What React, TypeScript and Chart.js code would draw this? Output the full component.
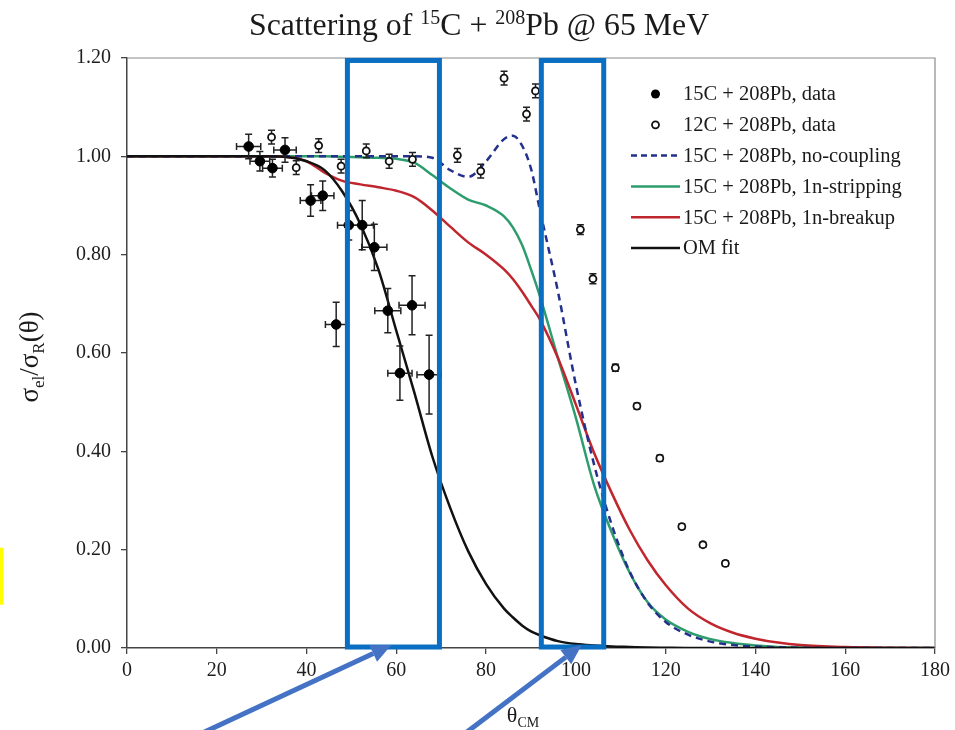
import React, { useEffect, useRef } from "react";
import { Chart, registerables } from "chart.js";
Chart.register(...registerables);

const FONT = "'Liberation Serif', 'Times New Roman', Times, serif";

// Common angle grid (degrees, CM) for the calculated curves
const THETA = [0, 10, 20, 30, 35, 40, 44, 48, 52, 56, 60, 64, 68, 72, 76, 80, 84, 86, 88, 90, 92, 96, 100, 104, 108, 112, 116, 120, 125, 130, 135, 140, 145, 150, 160, 170, 180];
const OM_FIT = [1, 1, 1, 1, 0.999, 0.99, 0.972, 0.928, 0.862, 0.77, 0.645, 0.52, 0.39, 0.285, 0.197, 0.13, 0.08, 0.062, 0.046, 0.034, 0.026, 0.014, 0.008, 0.005, 0.003, 0.002, 0.001, 0.0005, 0, 0, 0, 0, 0, 0, 0, 0, 0];
const NO_COUPLING = [1, 1, 1, 1, 1, 1, 1, 1, 1, 1, 1, 1, 0.997, 0.972, 0.958, 0.99, 1.035, 1.042, 1.022, 0.975, 0.89, 0.725, 0.535, 0.375, 0.25, 0.155, 0.092, 0.053, 0.027, 0.013, 0.006, 0.003, 0.0015, 0.0007, 0, 0, 0];
const STRIPPING = [1, 1, 1, 1, 1, 1, 1, 0.999, 0.998, 0.997, 0.995, 0.987, 0.962, 0.935, 0.912, 0.9, 0.878, 0.855, 0.82, 0.77, 0.715, 0.59, 0.468, 0.333, 0.235, 0.153, 0.093, 0.058, 0.033, 0.018, 0.01, 0.005, 0.002, 0.001, 0, 0, 0];
const BREAKUP = [1, 1, 1, 1, 0.999, 0.99, 0.967, 0.95, 0.943, 0.937, 0.93, 0.917, 0.89, 0.857, 0.825, 0.8, 0.77, 0.75, 0.725, 0.697, 0.668, 0.59, 0.495, 0.398, 0.315, 0.24, 0.178, 0.128, 0.08, 0.05, 0.031, 0.019, 0.011, 0.006, 0.002, 0.0005, 0];

// 15C + 208Pb measured data
const C15_THETA = [27.1, 29.6, 32.4, 35.2, 40.9, 43.6, 46.6, 49.4, 52.4, 55.1, 58.1, 60.8, 63.5, 67.3];
const C15_RATIO = [1.02, 0.99, 0.976, 1.013, 0.91, 0.92, 0.658, 0.86, 0.86, 0.815, 0.686, 0.559, 0.697, 0.556];
const C15_THETA_ERR = [2.7, 2.2, 2.2, 2.5, 2.3, 2.5, 2.4, 2.5, 2.5, 2.8, 2.9, 2.7, 2.9, 2.7];
const C15_RATIO_ERR = [0.025, 0.02, 0.018, 0.025, 0.032, 0.03, 0.045, 0.03, 0.05, 0.047, 0.045, 0.055, 0.06, 0.08];

// 12C + 208Pb measured data
const C12_THETA = [32.2, 37.7, 42.7, 47.7, 53.3, 58.4, 63.6, 73.6, 78.8, 84.0, 89.0, 91.0, 101.0, 103.8, 108.8, 113.6, 118.7, 123.6, 128.3, 133.3];
const C12_RATIO = [1.039, 0.977, 1.022, 0.98, 1.011, 0.99, 0.994, 1.002, 0.97, 1.159, 1.086, 1.133, 0.851, 0.751, 0.57, 0.492, 0.386, 0.247, 0.21, 0.172];
const C12_RATIO_ERR = [0.014, 0.014, 0.014, 0.014, 0.014, 0.014, 0.014, 0.014, 0.014, 0.014, 0.014, 0.014, 0.01, 0.01, 0.007, 0.006, 0.006, 0.005, 0.005, 0.005];

const X_TICKS = [0, 20, 40, 60, 80, 100, 120, 140, 160, 180];
const Y_TICKS = [0, 0.2, 0.4, 0.6, 0.8, 1.0, 1.2];

const LEGEND_LABELS = [
  "15C + 208Pb, data",
  "12C + 208Pb, data",
  "15C + 208Pb, no-coupling",
  "15C + 208Pb, 1n-stripping",
  "15C + 208Pb, 1n-breakup",
  "OM fit",
];

// Highlight annotations (in data units)
const HIGHLIGHT_BOXES = [
  { x0: 49.1, x1: 69.6, y0: 0.002, y1: 1.195 },
  { x0: 92.3, x1: 106.2, y0: 0.002, y1: 1.195 },
];
const ARROWS = [
  { fromX: 15.1, fromY: -0.18, toX: 58.9, toY: 0.006 },
  { fromX: 74.4, fromY: -0.18, toX: 101.3, toY: 0.006 },
];
const YELLOW_MARK = { y0: 0.088, y1: 0.204 };

const COLORS = {
  noCoupling: "#24318c",
  stripping: "#2e9d6e",
  breakup: "#c0262e",
  om: "#111111",
};

type Seg = { t: string; k?: "sup" | "sub" };

function drawRich(ctx: CanvasRenderingContext2D, segs: Seg[], x: number, y: number, size: number, align: "left" | "center") {
  const fontFor = (s: Seg) => `${s.k ? Math.round(size * 0.64) : size}px ${FONT}`;
  let total = 0;
  for (const s of segs) {
    ctx.font = fontFor(s);
    total += ctx.measureText(s.t).width;
  }
  let cx = align === "center" ? x - total / 2 : x;
  ctx.textAlign = "left";
  ctx.textBaseline = "alphabetic";
  for (const s of segs) {
    ctx.font = fontFor(s);
    const dy = s.k === "sup" ? -size * 0.36 : s.k === "sub" ? size * 0.22 : 0;
    ctx.fillText(s.t, cx, y + dy);
    cx += ctx.measureText(s.t).width;
  }
  return total;
}

const errorBarPlugin = {
  id: "errorBars",
  beforeDatasetDraw(chart: any, args: any) {
    const ds: any = chart.data.datasets[args.index];
    if (!ds.errY) return;
    const { ctx } = chart;
    const x = chart.scales.x;
    const y = chart.scales.y;
    ctx.save();
    ctx.strokeStyle = "#222";
    ctx.lineWidth = 1.5;
    const cap = 3.5;
    ds.data.forEach((p: any, i: number) => {
      const px = x.getPixelForValue(p.x);
      const py = y.getPixelForValue(p.y);
      const ey = ds.errY[i];
      const y0 = y.getPixelForValue(p.y - ey);
      const y1 = y.getPixelForValue(p.y + ey);
      ctx.beginPath();
      ctx.moveTo(px, y0);
      ctx.lineTo(px, y1);
      ctx.moveTo(px - cap, y0);
      ctx.lineTo(px + cap, y0);
      ctx.moveTo(px - cap, y1);
      ctx.lineTo(px + cap, y1);
      if (ds.errX) {
        const ex = ds.errX[i];
        const x0 = x.getPixelForValue(p.x - ex);
        const x1 = x.getPixelForValue(p.x + ex);
        ctx.moveTo(x0, py);
        ctx.lineTo(x1, py);
        ctx.moveTo(x0, py - cap);
        ctx.lineTo(x0, py + cap);
        ctx.moveTo(x1, py - cap);
        ctx.lineTo(x1, py + cap);
      }
      ctx.stroke();
    });
    ctx.restore();
  },
};

const decorPlugin = {
  id: "decor",
  afterDraw(chart: any) {
    const { ctx, chartArea: ca } = chart;
    const x = chart.scales.x;
    const y = chart.scales.y;
    ctx.save();

    // frame top & right
    ctx.strokeStyle = "#8a8a8a";
    ctx.lineWidth = 1.2;
    ctx.beginPath();
    ctx.moveTo(ca.left, ca.top);
    ctx.lineTo(ca.right, ca.top);
    ctx.lineTo(ca.right, ca.bottom);
    ctx.stroke();

    // Title
    ctx.fillStyle = "#1a1a1a";
    const titleSegs: Seg[] = [
      { t: "Scattering of " },
      { t: "15", k: "sup" },
      { t: "C + " },
      { t: "208", k: "sup" },
      { t: "Pb @ 65 MeV" },
    ];
    const base = 30;
    let w = 0;
    for (const s of titleSegs) {
      ctx.font = `${s.k ? Math.round(base * 0.64) : base}px ${FONT}`;
      w += ctx.measureText(s.t).width;
    }
    const tSize = Math.round(base * (460 / w) * 10) / 10;
    drawRich(ctx, titleSegs, 249, 35, tSize, "left");

    // Y axis title (rotated)
    ctx.save();
    ctx.translate(38, (ca.top + ca.bottom) / 2 + 4);
    ctx.rotate(-Math.PI / 2);
    drawRich(
      ctx,
      [{ t: "σ" }, { t: "el", k: "sub" }, { t: "/σ" }, { t: "R", k: "sub" }, { t: "(θ)" }],
      0,
      0,
      27,
      "center"
    );
    ctx.restore();

    // X axis title
    drawRich(ctx, [{ t: "θ" }, { t: "CM", k: "sub" }], (ca.left + ca.right) / 2 - 8, 722, 22, "center");

    // Legend
    const lx0 = ca.right - 304;
    const lx1 = ca.right - 255;
    const tx = ca.right - 252;
    const rowY = (i: number) => ca.top + 36 + i * 30.8;
    ctx.textBaseline = "middle";
    ctx.textAlign = "left";
    LEGEND_LABELS.forEach((lab, i) => {
      const yy = rowY(i);
      const mx = (lx0 + lx1) / 2;
      if (i === 0) {
        ctx.fillStyle = "#000";
        ctx.beginPath();
        ctx.arc(mx, yy, 4.5, 0, Math.PI * 2);
        ctx.fill();
      } else if (i === 1) {
        ctx.strokeStyle = "#111";
        ctx.lineWidth = 1.8;
        ctx.fillStyle = "#fff";
        ctx.beginPath();
        ctx.arc(mx, yy, 3.5, 0, Math.PI * 2);
        ctx.fill();
        ctx.stroke();
      } else {
        const col = [COLORS.noCoupling, COLORS.stripping, COLORS.breakup, COLORS.om][i - 2];
        ctx.strokeStyle = col;
        ctx.lineWidth = 2.5;
        ctx.setLineDash(i === 2 ? [6, 4] : []);
        ctx.beginPath();
        ctx.moveTo(lx0, yy);
        ctx.lineTo(lx1, yy);
        ctx.stroke();
        ctx.setLineDash([]);
      }
      ctx.fillStyle = "#1a1a1a";
      ctx.font = `20.5px ${FONT}`;
      ctx.fillText(lab, tx, yy + 1);
    });

    // Highlight boxes
    ctx.strokeStyle = "#0a6fc2";
    ctx.lineWidth = 5;
    HIGHLIGHT_BOXES.forEach((b) => {
      const px0 = x.getPixelForValue(b.x0);
      const px1 = x.getPixelForValue(b.x1);
      const py0 = y.getPixelForValue(b.y0);
      const py1 = y.getPixelForValue(b.y1);
      ctx.strokeRect(px0, py1, px1 - px0, py0 - py1);
    });

    // Arrows
    ctx.strokeStyle = "#4472c4";
    ctx.fillStyle = "#4472c4";
    ARROWS.forEach((a) => {
      const fx = x.getPixelForValue(a.fromX);
      const fy = y.getPixelForValue(a.fromY);
      const tx2 = x.getPixelForValue(a.toX);
      const ty2 = y.getPixelForValue(a.toY);
      const ang = Math.atan2(ty2 - fy, tx2 - fx);
      const hl = 20;
      const hw = 9;
      const bx = tx2 - hl * Math.cos(ang);
      const by = ty2 - hl * Math.sin(ang);
      ctx.lineWidth = 5;
      ctx.beginPath();
      ctx.moveTo(fx, fy);
      ctx.lineTo(bx, by);
      ctx.stroke();
      ctx.beginPath();
      ctx.moveTo(tx2, ty2);
      ctx.lineTo(bx + hw * Math.sin(ang), by - hw * Math.cos(ang));
      ctx.lineTo(bx - hw * Math.sin(ang), by + hw * Math.cos(ang));
      ctx.closePath();
      ctx.fill();
    });

    // Yellow mark at the left edge
    ctx.fillStyle = "#ffff00";
    const yy0 = y.getPixelForValue(YELLOW_MARK.y1);
    const yy1 = y.getPixelForValue(YELLOW_MARK.y0);
    ctx.fillRect(0, yy0, 3.5, yy1 - yy0);

    ctx.restore();
  },
};

export default function App() {
  const ref = useRef<HTMLCanvasElement | null>(null);
  useEffect(() => {
    if (!ref.current) return;
    const curve = (vals: number[]) => THETA.map((t, i) => ({ x: t, y: vals[i] }));
    const chart = new Chart(ref.current, {
      type: "scatter",
      data: {
        datasets: [
          {
            label: LEGEND_LABELS[0],
            data: C15_THETA.map((t, i) => ({ x: t, y: C15_RATIO[i] })),
            pointRadius: 4.8,
            pointBackgroundColor: "#000",
            pointBorderColor: "#000",
            pointBorderWidth: 1,
            errX: C15_THETA_ERR,
            errY: C15_RATIO_ERR,
          } as any,
          {
            label: LEGEND_LABELS[1],
            data: C12_THETA.map((t, i) => ({ x: t, y: C12_RATIO[i] })),
            pointRadius: 3.5,
            pointBackgroundColor: "#fff",
            pointBorderColor: "#111",
            pointBorderWidth: 1.8,
            errY: C12_RATIO_ERR,
          } as any,
          {
            label: LEGEND_LABELS[5],
            data: curve(OM_FIT),
            showLine: true,
            pointRadius: 0,
            borderColor: COLORS.om,
            borderWidth: 2.5,
            cubicInterpolationMode: "monotone",
          },
          {
            label: LEGEND_LABELS[2],
            data: curve(NO_COUPLING),
            showLine: true,
            pointRadius: 0,
            borderColor: COLORS.noCoupling,
            borderWidth: 2.5,
            borderDash: [7, 5],
            cubicInterpolationMode: "monotone",
          },
          {
            label: LEGEND_LABELS[4],
            data: curve(BREAKUP),
            showLine: true,
            pointRadius: 0,
            borderColor: COLORS.breakup,
            borderWidth: 2.5,
            cubicInterpolationMode: "monotone",
          },
          {
            label: LEGEND_LABELS[3],
            data: curve(STRIPPING),
            showLine: true,
            pointRadius: 0,
            borderColor: COLORS.stripping,
            borderWidth: 2.5,
            cubicInterpolationMode: "monotone",
          },
        ],
      },
      options: {
        responsive: false,
        animation: false,
        layout: { padding: { top: 58, right: 18, left: 0, bottom: 0 } },
        plugins: {
          legend: { display: false },
          title: { display: false },
          tooltip: { enabled: false },
        },
        scales: {
          x: {
            type: "linear",
            min: 0,
            max: 180,
            afterFit: (s: any) => {
              s.height = 82;
            },
            afterBuildTicks: (s: any) => {
              s.ticks = X_TICKS.map((v) => ({ value: v }));
            },
            ticks: {
              font: { family: FONT, size: 20 },
              color: "#1e1e1e",
              padding: 5,
              maxRotation: 0,
              callback: (v: any) => String(v),
            },
            grid: { drawOnChartArea: false, drawTicks: true, tickLength: 6, color: "#444", lineWidth: 1.3 },
            border: { display: true, color: "#444", width: 1.5 },
          },
          y: {
            type: "linear",
            min: 0,
            max: 1.2,
            afterFit: (s: any) => {
              s.width = 127;
            },
            afterBuildTicks: (s: any) => {
              s.ticks = Y_TICKS.map((v) => ({ value: v }));
            },
            ticks: {
              font: { family: FONT, size: 20 },
              color: "#1e1e1e",
              padding: 10,
              callback: (v: any) => Number(v).toFixed(2),
            },
            grid: { drawOnChartArea: false, drawTicks: true, tickLength: 6, color: "#444", lineWidth: 1.3 },
            border: { display: true, color: "#444", width: 1.5 },
          },
        },
      },
      plugins: [errorBarPlugin, decorPlugin],
    } as any);
    return () => chart.destroy();
  }, []);

  return (
    <div style={{ position: "fixed", left: 0, top: 0, width: 955, height: 730, background: "#fff" }}>
      <canvas ref={ref} width={955} height={730} style={{ display: "block" }} />
    </div>
  );
}
